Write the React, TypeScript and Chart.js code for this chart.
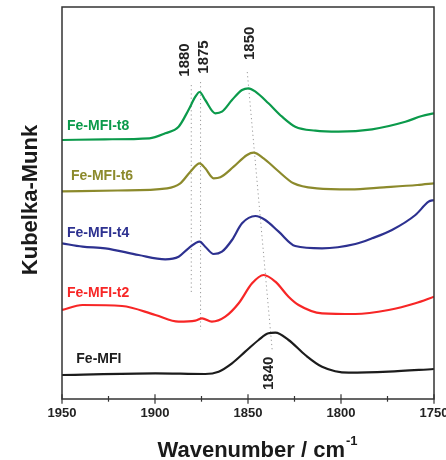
import React, { useEffect, useRef } from 'react';
import { Chart, registerables } from 'chart.js';

Chart.register(...registerables);

// ---------- data (wavenumber in cm-1, Kubelka-Munk in arbitrary stacked units) ----------
const xTickValues = [1950, 1925, 1900, 1875, 1850, 1825, 1800, 1775, 1750];

const t8Wavenumbers = [1950, 1927, 1903, 1894.5, 1887.3, 1882, 1878.3, 1876, 1873, 1867.6, 1864, 1858.6, 1853.2, 1849.7, 1846, 1839, 1831.7, 1824.6, 1813.8, 1801.3, 1783.3, 1765.4, 1756.5, 1750];
const t8Values = [259, 259.7, 260.7, 265.7, 272.3, 289, 302.3, 307, 299, 285.7, 287.3, 299, 309, 310.7, 307.3, 295.7, 282.3, 272.3, 268.3, 267.3, 269.7, 277.3, 283, 285.7];

const t6Wavenumbers = [1950, 1920, 1893.5, 1886.4, 1881, 1876, 1873, 1868.5, 1864.9, 1857.7, 1850.5, 1847, 1841.6, 1834.4, 1825.5, 1813, 1795, 1777, 1759, 1750];
const t6Values = [207.7, 208.5, 210.7, 215.7, 227.3, 235.7, 230.7, 220.7, 221.7, 232.3, 244, 246.3, 240.7, 229, 215.7, 210.7, 209.7, 211.7, 214, 215.7];

const t4Wavenumbers = [1950, 1939, 1926.7, 1908.8, 1894.5, 1887.3, 1882, 1876, 1873, 1868.5, 1864, 1858.6, 1853.2, 1846, 1840.7, 1833.5, 1824.6, 1810.2, 1792.3, 1783.3, 1772.6, 1760, 1752.9, 1750];
const t4Values = [155.7, 152.3, 150.7, 144, 139.7, 142.3, 150.7, 157.3, 152.3, 145, 147.3, 159, 175.7, 183, 179, 167.3, 153, 150.7, 155, 160.7, 169, 184, 197.3, 199];

const t2Wavenumbers = [1950, 1939, 1917.7, 1899.8, 1887.3, 1878.3, 1874.7, 1869.4, 1862.2, 1855, 1847.8, 1841.6, 1835.3, 1828.2, 1822.8, 1810.2, 1792.3, 1774.4, 1760, 1750];
const t2Values = [89, 94, 93, 84, 77.3, 78.3, 80.7, 77.3, 82.3, 95.7, 115.7, 124, 117.3, 102.3, 94, 85.7, 85, 89, 95.7, 102.3];

const mfiWavenumbers = [1950, 1899.8, 1873, 1865.8, 1858.6, 1851.5, 1844.3, 1839, 1835.3, 1828.2, 1819.2, 1810.2, 1795.9, 1774.4, 1750];
const mfiValues = [24, 25.7, 25, 27.3, 35.7, 47.3, 59, 65.7, 66.3, 59, 44, 32.3, 26.3, 27.3, 30];

const seriesNames = ['Fe-MFI-t8', 'Fe-MFI-t6', 'Fe-MFI-t4', 'Fe-MFI-t2', 'Fe-MFI'];
const seriesColors = ['#0b9a4b', '#8c8a2c', '#2d3190', '#f72626', '#1c1c1c'];
const seriesWavenumbers = [t8Wavenumbers, t6Wavenumbers, t4Wavenumbers, t2Wavenumbers, mfiWavenumbers];
const seriesValues = [t8Values, t6Values, t4Values, t2Values, mfiValues];

// curve name labels (left anchor in data coordinates)
const nameLabelX = [1947.3, 1945.2, 1947.3, 1947.3, 1942.3];
const nameLabelY = [273, 223.3, 165.7, 106.3, 39.7];

// peak guide lines (dotted)
const guideStartX = [1880.5, 1875.5, 1850.4];
const guideStartY = [314, 317, 327];
const guideEndX = [1880.5, 1875.5, 1836.9];
const guideEndY = [107, 69, 47];

// peak annotations (rotated)
const peakLabels = ['1880', '1875', '1850', '1840'];
const peakLabelX = [1883.7, 1873.9, 1849, 1838.9];
const peakLabelY = [339, 342, 355.7, 25.7];

const Y_MIN = 0;
const Y_MAX = 392;
const FONT = '"Liberation Sans", Arial, Helvetica, sans-serif';

const decorPlugin = {
  id: 'decor',
  afterDraw(chart: any) {
    const { ctx, chartArea } = chart;
    const xs = chart.scales.x;
    const ys = chart.scales.y;
    ctx.save();
    // frame
    ctx.strokeStyle = '#333';
    ctx.lineWidth = 1.5;
    ctx.strokeRect(chartArea.left, chartArea.top, chartArea.right - chartArea.left, chartArea.bottom - chartArea.top);
    // crossing tick marks
    ctx.lineWidth = 1.2;
    xTickValues.forEach((v) => {
      const px = xs.getPixelForValue(v);
      const major = v % 50 === 0;
      const up = major ? 4.7 : 3;
      const down = major ? 4.7 : 2.7;
      ctx.beginPath();
      ctx.moveTo(px, chartArea.bottom - up);
      ctx.lineTo(px, chartArea.bottom + down);
      ctx.stroke();
    });
    // curve names
    ctx.font = `bold 14px ${FONT}`;
    ctx.textAlign = 'left';
    ctx.textBaseline = 'middle';
    seriesNames.forEach((name, i) => {
      ctx.fillStyle = seriesColors[i];
      ctx.fillText(name, xs.getPixelForValue(nameLabelX[i]), ys.getPixelForValue(nameLabelY[i]));
    });
    // peak labels
    ctx.font = `bold 15px ${FONT}`;
    ctx.fillStyle = '#222';
    ctx.textAlign = 'center';
    peakLabels.forEach((t, i) => {
      ctx.save();
      ctx.translate(xs.getPixelForValue(peakLabelX[i]), ys.getPixelForValue(peakLabelY[i]));
      ctx.rotate(-Math.PI / 2);
      ctx.fillText(t, 0, 0);
      ctx.restore();
    });
    // y title
    ctx.save();
    ctx.font = `bold 22px ${FONT}`;
    ctx.fillStyle = '#1a1a1a';
    ctx.textAlign = 'center';
    ctx.textBaseline = 'alphabetic';
    ctx.translate(36.5, (chartArea.top + chartArea.bottom) / 2 - 3);
    ctx.rotate(-Math.PI / 2);
    ctx.fillText('Kubelka-Munk', 0, 0);
    ctx.restore();
    // x title with superscript
    const main = 'Wavenumber / cm';
    const sup = '-1';
    ctx.textBaseline = 'alphabetic';
    ctx.textAlign = 'left';
    ctx.font = `bold 22px ${FONT}`;
    const wMain = ctx.measureText(main).width;
    ctx.font = `bold 13px ${FONT}`;
    const wSup = ctx.measureText(sup).width;
    const startX = 257.5 - (wMain + wSup + 1) / 2;
    ctx.fillStyle = '#1a1a1a';
    ctx.font = `bold 22px ${FONT}`;
    ctx.fillText(main, startX, 456.5);
    ctx.font = `bold 13px ${FONT}`;
    ctx.fillText(sup, startX + wMain + 1, 444.5);
    ctx.restore();
  },
};

export default function App() {
  const canvasRef = useRef<HTMLCanvasElement | null>(null);

  useEffect(() => {
    if (!canvasRef.current) return;
    const curveSets = seriesNames.map((name, i) => ({
      label: name,
      data: seriesWavenumbers[i].map((w, j) => ({ x: w, y: seriesValues[i][j] })),
      borderColor: seriesColors[i],
      borderWidth: 2.2,
      pointRadius: 0,
      fill: false,
      cubicInterpolationMode: 'monotone' as const,
      order: 1,
    }));
    const guideSets = guideStartX.map((sx, i) => ({
      label: 'guide' + i,
      data: [
        { x: sx, y: guideStartY[i] },
        { x: guideEndX[i], y: guideEndY[i] },
      ],
      borderColor: '#9a9a9a',
      borderWidth: 1,
      borderDash: [1.2, 3],
      pointRadius: 0,
      fill: false,
      order: 2,
    }));
    const chart = new Chart(canvasRef.current, {
      type: 'line',
      data: { datasets: [...curveSets, ...guideSets] as any },
      plugins: [decorPlugin],
      options: {
        animation: false,
        responsive: false,
        devicePixelRatio: 1,
        layout: { padding: { left: 62, top: 7, right: 12, bottom: 31.4 } },
        plugins: { legend: { display: false }, tooltip: { enabled: false } },
        scales: {
          x: {
            type: 'linear',
            reverse: true,
            min: 1750,
            max: 1950,
            grid: { display: false, drawTicks: false },
            border: { display: false },
            afterFit: (scale: any) => {
              scale.paddingLeft = 0;
              scale.paddingRight = 0;
            },
            ticks: {
              stepSize: 50,
              autoSkip: false,
              maxRotation: 0,
              padding: 7,
              color: '#222',
              font: { family: FONT, size: 13, weight: 'bold' },
              callback: (v: any) => String(v),
            },
          },
          y: {
            display: false,
            min: Y_MIN,
            max: Y_MAX,
          },
        },
      } as any,
    });
    return () => chart.destroy();
  }, []);

  return (
    <div style={{ position: 'fixed', left: 0, top: 0, width: 446, height: 460, background: '#fff' }}>
      <canvas ref={canvasRef} width={446} height={460} style={{ display: 'block' }} />
    </div>
  );
}
